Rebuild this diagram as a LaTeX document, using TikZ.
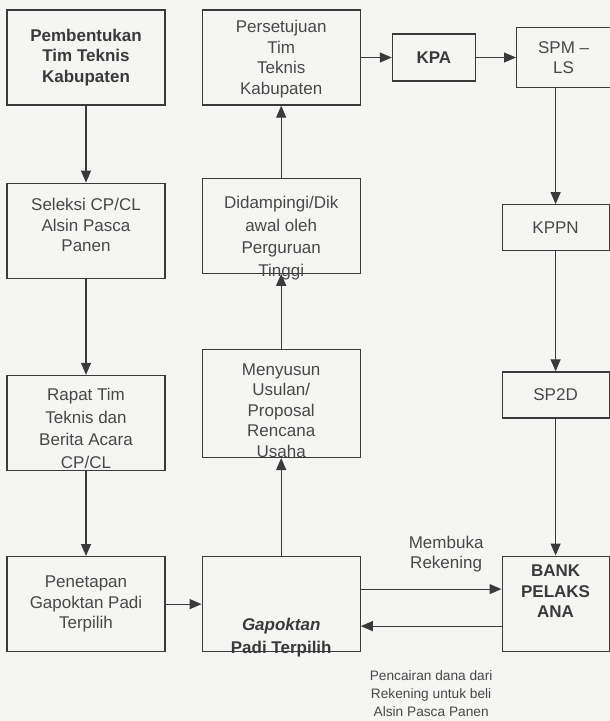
\documentclass[tikz,border=0pt]{standalone}
\usepackage{fontspec}
\setmainfont{Liberation Sans}
\usepackage{tikz}
\usetikzlibrary{
  arrows.meta,
  positioning
}
\definecolor{inkgray}{RGB}{58,58,58}
\definecolor{textgray}{RGB}{72,72,72}
\definecolor{papergray}{RGB}{245,245,243}
\newcommand{\sunk}[2]{\raisebox{-#1}[0pt][0pt]{\begin{tabular}{@{}c@{}}#2\end{tabular}}}
\tikzset{
  procbox/.style={draw=inkgray,line width=1.2pt,align=center,inner sep=2pt,
    text=textgray,font=\fontsize{17}{20.5}\selectfont},
  bigbox/.style={procbox,minimum width=158pt,minimum height=95pt},
  smallbox/.style={procbox,minimum width=107pt,minimum height=46pt},
  keybox/.style={font=\fontsize{17}{20.5}\selectfont\bfseries,text=inkgray},
  flow/.style={-{Triangle[length=12pt,width=10pt]},line width=1.2pt,draw=inkgray},
  lab/.style={font=\fontsize{17}{20}\selectfont,align=center,text=textgray,
    inner sep=2pt},
  notelab/.style={font=\fontsize{13.7}{18}\selectfont,align=center,
    text=textgray,inner sep=2pt}
}

\begin{document}
\begin{tikzpicture}[x=1pt,y=1pt]
  \fill[papergray,use as bounding box] (0,0) rectangle (610,-721);
  \node[bigbox,keybox] (pemb) at (86,-57.5) {Pembentukan\\Tim Teknis\\Kabupaten};
  \node[bigbox,below=77pt of pemb] (sel) {\sunk{1pt}{Seleksi CP/CL\\Alsin Pasca\\Panen}};
  \node[bigbox,below=96pt of sel] (rap) {\sunk{12pt}{Rapat Tim\\[2pt]Teknis dan\\[2pt]Berita Acara\\[2pt]CP/CL}};
  \node[bigbox,below=85pt of rap] (pen) {Penetapan\\Gapoktan Padi\\Terpilih};
  \node[bigbox,right=36pt of pemb] (pers) {\sunk{6pt}{Persetujuan\\Tim\\Teknis\\Kabupaten}};
  \node[bigbox,below=72pt of pers] (did) {\sunk{17pt}{Didampingi/Dik\\[2pt]awal oleh\\[2pt]Perguruan\\[2pt]Tinggi}};
  \node[bigbox,below=75pt of did,minimum height=108pt] (meny)
    {\sunk{13pt}{Menyusun\\Usulan/\\Proposal\\Rencana\\Usaha}};
  \node[bigbox,keybox,below=98pt of meny] (gap) {\sunk{38pt}{\textit{Gapoktan}\\[3pt]Padi Terpilih}};
  \node[smallbox,keybox,right=31pt of pers,minimum width=83pt,minimum height=47pt] (kpa) {KPA};
  \node[smallbox,right=40pt of kpa,minimum width=94pt,minimum height=60pt] (spm) {SPM --\\LS};
  \node[smallbox,below=116pt of spm,xshift=-8pt] (kppn) {KPPN};
  \node[smallbox,below=120pt of kppn] (sp2d) {SP2D};
  \node[smallbox,keybox,below=137pt of sp2d,minimum height=95pt] (bank) {\sunk{-6pt}{BANK\\PELAKS\\ANA}};
  \draw[flow] (pemb)--(sel);
  \draw[flow] (sel)--(rap);
  \draw[flow] (rap)--(pen);
  \draw[flow] (pen)--(gap);
  \draw[flow] (gap)--(meny);
  \draw[flow] (meny)--(did);
  \draw[flow] (did)--(pers);
  \draw[flow] (pers)--(kpa);
  \draw[flow] (kpa)--(spm);
  \draw[flow] (spm.south -| kppn)--(kppn);
  \draw[flow] (kppn)--(sp2d);
  \draw[flow] (sp2d)--(bank);
  \draw[flow] ([yshift=15pt]gap.east)--([yshift=15pt]gap.east -| bank.west)
    node[lab,midway,above=14pt,xshift=15pt]{Membuka\\Rekening};
  \draw[flow] ([yshift=-22pt]gap.east -| bank.west)--([yshift=-22pt]gap.east)
    node[notelab,midway,below=42pt]{Pencairan dana dari\\Rekening untuk beli\\Alsin Pasca Panen};
\end{tikzpicture}
\end{document}
